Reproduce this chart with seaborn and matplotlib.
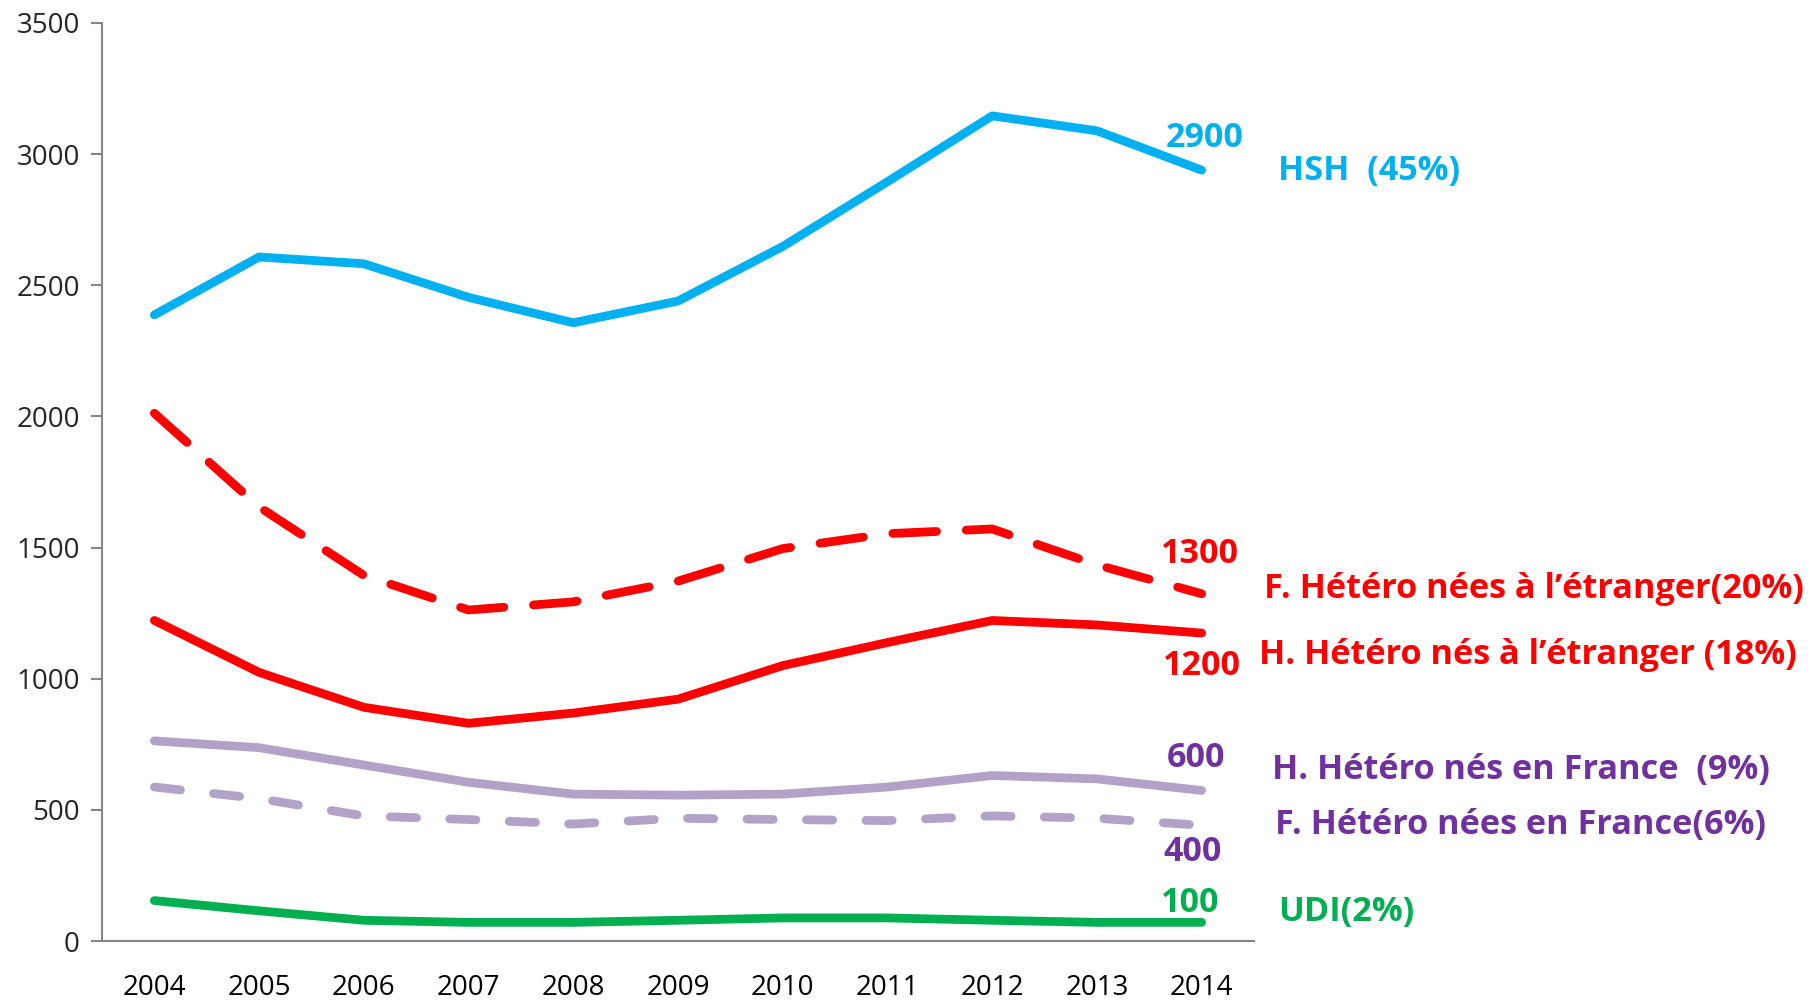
import matplotlib
matplotlib.use("Agg")
import matplotlib.pyplot as plt
import seaborn as sns
import pandas as pd
from matplotlib import font_manager

years = [2004, 2005, 2006, 2007, 2008, 2009, 2010, 2011, 2012, 2013, 2014]
hsh = [2387, 2608, 2582, 2454, 2357, 2440, 2648, 2895, 3146, 3089, 2939]
f_etr = [2012, 1655, 1394, 1262, 1293, 1372, 1496, 1553, 1571, 1434, 1324]
h_etr = [1222, 1024, 891, 830, 869, 922, 1050, 1138, 1222, 1205, 1174]
h_fr = [763, 737, 671, 605, 560, 556, 560, 587, 631, 618, 574]
f_fr = [587, 543, 477, 463, 446, 468, 463, 459, 477, 468, 441]
udi = [154, 115, 79, 71, 71, 79, 88, 88, 79, 71, 71]

value_labels = ["2900", "1300", "1200", "600", "400", "100"]
series_labels = ["HSH  (45%)", "F. Hétéro nées à l’étranger(20%)",
                 "H. Hétéro nés à l’étranger (18%)", "H. Hétéro nés en France  (9%)",
                 "F. Hétéro nées en France(6%)", "UDI(2%)"]
yticks = [0, 500, 1000, 1500, 2000, 2500, 3000, 3500]

sns.set_theme(style="white")
names = {f.name for f in font_manager.fontManager.ttflist}
fam = [f for f in ["Liberation Sans Narrow", "Open Sans", "DejaVu Sans"] if f in names]
plt.rcParams['font.family'] = fam

BLUE = "#00B0F0"
RED = "#FF0000"
LAV = "#B3A2C7"
PURPLE = "#7030A0"
GREEN = "#00B050"

fig = plt.figure(figsize=(18.15, 10), dpi=100)
ax = fig.add_axes([0.0562, 0.059, 0.6347, 0.918])

idx = list(range(len(years)))
series = [
    (hsh, BLUE, None),
    (f_etr, RED, (5.0, 3.4)),
    (h_etr, RED, None),
    (h_fr, LAV, None),
    (f_fr, LAV, (3.0, 3.8)),
    (udi, GREEN, None),
]
for vals, col, dash in series:
    df = pd.DataFrame({"x": idx, "y": vals})
    sns.lineplot(data=df, x="x", y="y", ax=ax, color=col, linewidth=6.3)
    ln = ax.get_lines()[-1]
    ln.set_solid_capstyle("round")
    ln.set_solid_joinstyle("round")
    if dash is not None:
        ln.set_dashes(dash)
        ln.set_dash_capstyle("round")

ax.set_xlim(-0.5, 10.5)
ax.set_ylim(0, 3500)
ax.set_xlabel("")
ax.set_ylabel("")
ax.set_yticks(yticks)
ax.set_yticklabels([str(v) for v in yticks])
ax.set_xticks(idx)
ax.set_xticklabels([str(y) for y in years])
ax.set_xticks([i - 0.5 for i in range(len(years) + 1)], minor=True)
ax.tick_params(axis="x", which="major", length=0, pad=24, labelsize=20, colors="black")
ax.tick_params(axis="x", which="minor", length=10, width=1.5, color="#868686", direction="out")
ax.tick_params(axis="y", length=8, width=1.5, color="#868686", direction="out", labelsize=20, pad=8, left=True)
for s in ["top", "right"]:
    ax.spines[s].set_visible(False)
for s in ["left", "bottom"]:
    ax.spines[s].set_color("#868686")
    ax.spines[s].set_linewidth(1.5)
ax.grid(False)

# value labels
val_pos = [(10.03, 3061, BLUE), (9.98, 1475, RED), (10.0, 1048, RED),
           (9.95, 698, PURPLE), (9.91, 339, PURPLE), (9.89, 145, GREEN)]
for txt, (x, y, c) in zip(value_labels, val_pos):
    ax.text(x, y, txt, color=c, fontsize=24.5, fontweight="bold", ha="center", va="center",
            clip_on=False)

lab_pos = [(10.73, 2936, BLUE), (10.60, 1342, RED), (10.55, 1090, RED),
           (10.67, 652, PURPLE), (10.70, 442, PURPLE), (10.73, 111, GREEN)]
for txt, (x, y, c) in zip(series_labels, lab_pos):
    ax.text(x, y, txt, color=c, fontsize=24.7, fontweight="bold", ha="left", va="center",
            clip_on=False)

fig.savefig("out.png", dpi=100, facecolor="white")
